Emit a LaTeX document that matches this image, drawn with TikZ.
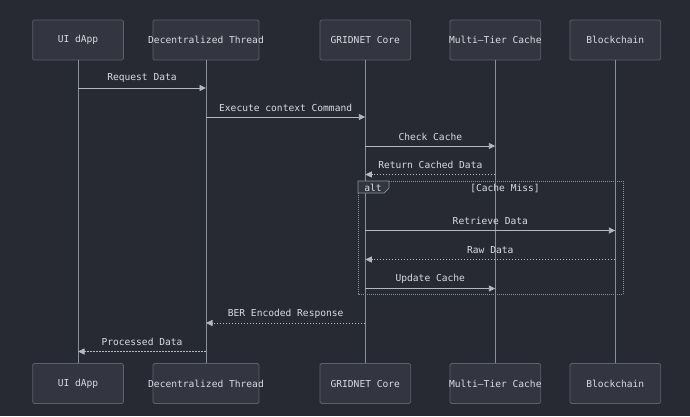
\documentclass[tikz,border=0pt]{standalone}
\usepackage{fontspec}
\setmonofont{DejaVu Sans Mono}
\usepackage{xcolor}
\usetikzlibrary{positioning}
\usetikzlibrary{arrows.meta}

\definecolor{bgdark}{HTML}{272A33}
\definecolor{boxfill}{HTML}{333640}
\definecolor{boxline}{HTML}{5C606C}
\definecolor{lifecol}{HTML}{8A8F9C}
\definecolor{msgcol}{HTML}{B4B8C2}
\definecolor{labeltext}{HTML}{D8DBE1}

\newcommand{\lname}[1]{\makebox[0pt]{#1}}

\tikzset{
  actor/.style={draw=boxline, fill=boxfill, rounded corners=1.5pt, line width=0.8pt,
    minimum width=90.7pt, minimum height=40pt, inner sep=0pt,
    text=labeltext, font=\ttfamily\fontsize{9.6}{11}\selectfont},
  lifeline/.style={draw=lifecol, line width=0.9pt},
  msg/.style={draw=msgcol, line width=0.9pt, -{Triangle[length=6.5pt,width=6pt]}},
  reply/.style={msg, dash pattern=on 1.6pt off 1.4pt},
  msglabel/.style={text=labeltext, font=\ttfamily\fontsize{9.6}{11}\selectfont, yshift=9.5pt},
}

\begin{document}
\begin{tikzpicture}[x=1pt, y=-1pt]
  \fill[bgdark] (0,0) rectangle (690,416);
  \useasboundingbox (0,0) rectangle (690,416);

  % Participants at the top
  \node[actor] (ui) at (78,40) {\lname{UI dApp}};
  \node[actor, minimum width=106pt] (thread) at (206,40) {\lname{Decentralized Thread}};
  \node[actor] (core) at (365.3,40) {\lname{GRIDNET Core}};
  \node[actor] (cache) at (495.3,40) {\lname{Multi–Tier Cache}};
  \node[actor] (chain) at (615.3,40) {\lname{Blockchain}};

  % Participants at the bottom
  \node[actor] (ui2) at (78,383.5) {\lname{UI dApp}};
  \node[actor, minimum width=106pt] (thread2) at (206,383.5) {\lname{Decentralized Thread}};
  \node[actor] (core2) at (365.3,383.5) {\lname{GRIDNET Core}};
  \node[actor] (cache2) at (495.3,383.5) {\lname{Multi–Tier Cache}};
  \node[actor] (chain2) at (615.3,383.5) {\lname{Blockchain}};

  % Lifelines
  \draw[lifeline] (ui) -- (ui2);
  \draw[lifeline] (thread) -- (thread2);
  \draw[lifeline] (core) -- (core2);
  \draw[lifeline] (cache) -- (cache2);
  \draw[lifeline] (chain) -- (chain2);

  % alt frame
  \draw[draw=lifecol, line width=0.7pt, dash pattern=on 1pt off 1pt] (358,181) rectangle (623,294);
  \draw[draw=lifecol, fill=boxfill, line width=0.7pt] (358,181) -- (389,181) -- (389,188) -- (384,193) -- (358,193) -- cycle;
  \node[text=labeltext, font=\ttfamily\fontsize{9.6}{11}\selectfont] (alt) at (373,187.5) {alt};
  \node[text=labeltext, font=\ttfamily\fontsize{9.6}{11}\selectfont] (miss) at (505,188.5) {[Cache Miss]};

  % Messages
  \draw[msg] (ui |- 0,88) -- (thread |- 0,88) node[midway, msglabel] {Request Data};
  \draw[msg] (thread |- 0,117) -- (core |- 0,117) node[midway, msglabel] {Execute context Command};
  \draw[msg] (core |- 0,146) -- (cache |- 0,146) node[midway, msglabel] {Check Cache};
  \draw[reply] (cache |- 0,174.5) -- (core |- 0,174.5) node[midway, msglabel] {Return Cached Data};
  \draw[msg] (core |- 0,230.5) -- (chain |- 0,230.5) node[midway, msglabel] {Retrieve Data};
  \draw[reply] (chain |- 0,259.5) -- (core |- 0,259.5) node[midway, msglabel] {Raw Data};
  \draw[msg] (core |- 0,288.5) -- (cache |- 0,288.5) node[midway, msglabel] {Update Cache};
  \draw[reply] (core |- 0,323) -- (thread |- 0,323) node[midway, msglabel] {BER Encoded Response};
  \draw[reply] (thread |- 0,351.5) -- (ui |- 0,351.5) node[midway, msglabel] {Processed Data};
\end{tikzpicture}
\end{document}
